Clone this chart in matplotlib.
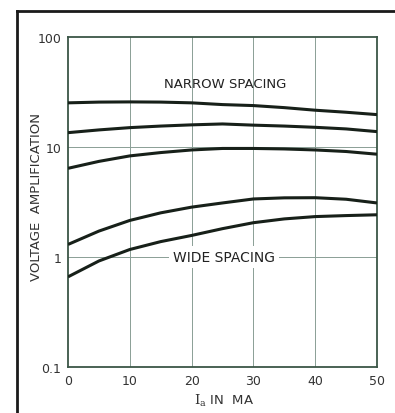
import matplotlib
matplotlib.use("Agg")
from matplotlib import pyplot as plt
from matplotlib.lines import Line2D

# plate current, mA
ia = [0, 5, 10, 15, 20, 25, 30, 35, 40, 45, 50]

# voltage amplification for each grid spacing
narrow_1 = [25.2, 25.6, 25.7, 25.6, 25.2, 24.3, 23.8, 22.8, 21.6, 20.7, 19.7]
narrow_2 = [13.5, 14.3, 15.0, 15.5, 15.9, 16.2, 15.8, 15.5, 15.1, 14.6, 13.8]
middle = [6.4, 7.4, 8.3, 8.9, 9.4, 9.7, 9.7, 9.6, 9.4, 9.1, 8.6]
wide_1 = [1.30, 1.72, 2.15, 2.52, 2.84, 3.10, 3.37, 3.45, 3.46, 3.35, 3.10]
wide_2 = [0.66, 0.92, 1.17, 1.38, 1.57, 1.81, 2.05, 2.22, 2.33, 2.38, 2.42]

x_ticks = [0, 10, 20, 30, 40, 50]
y_ticks = [0.1, 1, 10, 100]
y_tick_labels = ["0.1", "1", "10", "100"]

plt.rcParams["mathtext.fontset"] = "dejavuserif"

ink = "#172019"
spine = "#3b5647"
grid = "#8a9e95"

fig = plt.figure(figsize=(3.95, 4.14), dpi=100)
ax = fig.add_axes([68 / 395, 1 - 368 / 414, 309 / 395, 330 / 414])

ax.set_yscale("log")
ax.set_xlim(0, 50)
ax.set_ylim(0.1, 100)

# grid: vertical lines at the inner x ticks, horizontal at 1 and 10
for xv in x_ticks[1:-1]:
    ax.axvline(xv, color=grid, lw=0.7, zorder=1)
for yv in [1, 10]:
    ax.axhline(yv, color=grid, lw=0.7, zorder=1)

for series in [narrow_1, narrow_2, middle, wide_1, wide_2]:
    ax.plot(ia, series, color=ink, lw=2.2, solid_capstyle="butt",
            solid_joinstyle="round", zorder=3)

ax.text(25.5, 38, "NARROW SPACING", ha="center", va="center",
        fontsize=9.5, color="#222222", zorder=4)
ax.text(25.2, 1, "WIDE SPACING", ha="center", va="center",
        fontsize=10, color="#222222", zorder=2,
        bbox=dict(boxstyle="square,pad=0.3", fc="white", ec="none"))

ax.set_xticks(x_ticks)
ax.set_xticklabels([str(v) for v in x_ticks])
ax.set_yticks(y_ticks)
ax.set_yticklabels(y_tick_labels)
ax.minorticks_off()
ax.tick_params(length=0, labelsize=9, labelcolor="#333333")
ax.tick_params(axis="x", pad=5)
ax.tick_params(axis="y", pad=5)

for s in ax.spines.values():
    s.set_color(spine)
    s.set_linewidth(1.3)

fig.text(37 / 395, 1 - 197 / 414, "VOLTAGE  AMPLIFICATION", rotation=90,
         ha="center", va="center", fontsize=9.5, color="#333333")
fig.text(224 / 395, 1 - 401 / 414, r"$\mathrm{I_a}$ IN  MA", ha="center",
         va="center", fontsize=9.5, color="#333333")

# outer frame of the figure (open at the right and bottom)
fx = 17 / 395
fy = 1 - 12 / 414
fig.add_artist(Line2D([fx, fx], [0, fy], color="#1a1a1a", lw=2.0,
                      transform=fig.transFigure))
fig.add_artist(Line2D([fx, 1], [fy, fy], color="#1a1a1a", lw=2.0,
                      transform=fig.transFigure))

fig.savefig("out.png", dpi=100)
